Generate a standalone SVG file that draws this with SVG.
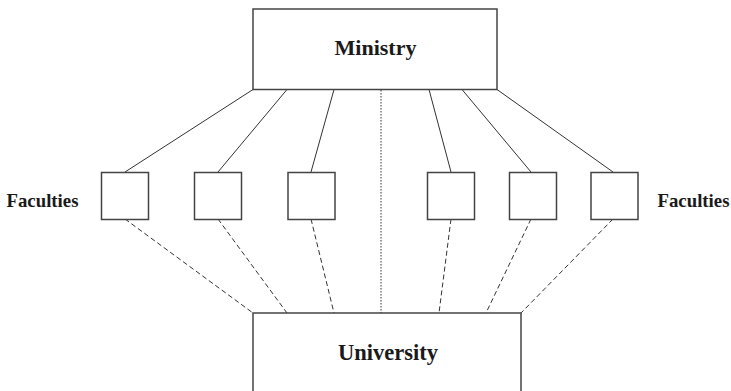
<svg xmlns="http://www.w3.org/2000/svg" width="731" height="391" viewBox="0 0 731 391">
<style>
.box{fill:#fff;stroke:#444;stroke-width:1.5}
.lbl{font-family:"Liberation Serif","Times New Roman",serif;font-weight:bold;fill:#1a1a1a}
.solid{stroke:#333;stroke-width:1;fill:none}
.dash{stroke:#333;stroke-width:1;stroke-dasharray:5,3;fill:none}
.dot{stroke:#333;stroke-width:1;stroke-dasharray:1.5,1.5;fill:none}
</style>
<rect width="731" height="391" fill="#fff"/>
<g id="connectors">
<line class="solid" x1="253" y1="89.5" x2="125" y2="172"/>
<line class="solid" x1="287" y1="89.5" x2="218" y2="172"/>
<line class="solid" x1="334" y1="89.5" x2="311" y2="172"/>
<line class="solid" x1="429" y1="89.5" x2="451" y2="172"/>
<line class="solid" x1="462" y1="89.5" x2="531" y2="172"/>
<line class="solid" x1="497" y1="89.5" x2="613" y2="172"/>
<line class="dot" x1="381" y1="90" x2="381" y2="313"/>
<line class="dash" x1="125" y1="219" x2="253" y2="313"/>
<line class="dash" x1="218" y1="219" x2="287" y2="313"/>
<line class="dash" x1="311" y1="219" x2="334" y2="313"/>
<line class="dash" x1="451" y1="219" x2="439" y2="313"/>
<line class="dash" x1="531" y1="219" x2="486" y2="313"/>
<line class="dash" x1="613" y1="219" x2="521" y2="313"/>
</g>
<g id="ministry">
<rect class="box" x="253" y="9" width="244" height="80.5"/>
<text class="lbl" x="375.5" y="55" font-size="22" text-anchor="middle">Ministry</text>
</g>
<g id="university">
<rect class="box" x="253" y="313" width="268" height="90"/>
<text class="lbl" x="388" y="360" font-size="22.5" text-anchor="middle">University</text>
</g>
<g id="f1"><rect class="box" x="101.5" y="172.5" width="47" height="47"/></g>
<g id="f2"><rect class="box" x="194.5" y="172.5" width="47" height="47"/></g>
<g id="f3"><rect class="box" x="288" y="172.5" width="47" height="47"/></g>
<g id="f4"><rect class="box" x="427.5" y="172.5" width="47" height="47"/></g>
<g id="f5"><rect class="box" x="509.5" y="172.5" width="47" height="47"/></g>
<g id="f6"><rect class="box" x="591" y="172.5" width="47" height="47"/></g>
<g id="label-left"><text class="lbl" x="6.5" y="207" font-size="18.8">Faculties</text></g>
<g id="label-right"><text class="lbl" x="657.5" y="207" font-size="18.8">Faculties</text></g>
</svg>
